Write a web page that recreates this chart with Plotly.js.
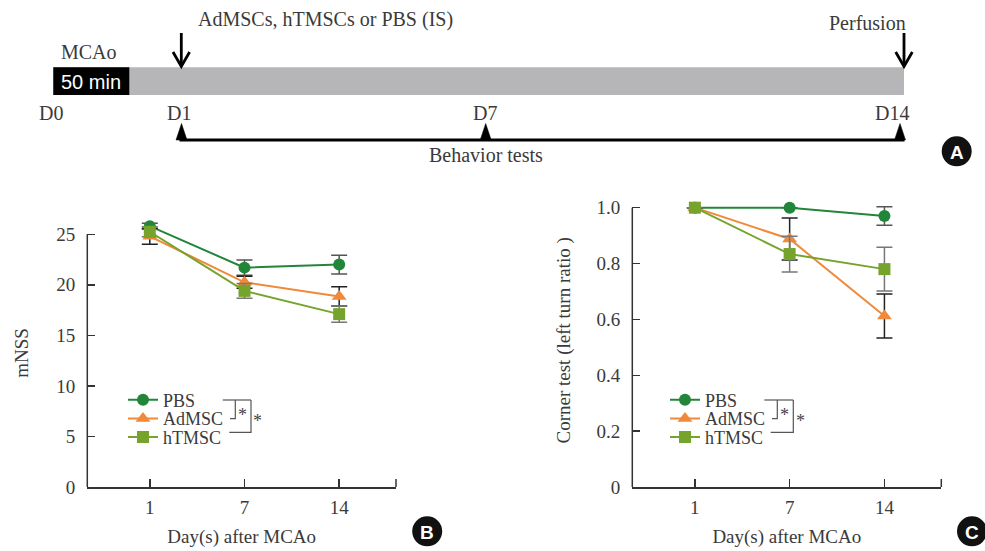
<!DOCTYPE html>
<html>
<head>
<meta charset="utf-8">
<script src="https://cdn.plot.ly/plotly-3.0.1.min.js"></script>
<style>html,body{margin:0;padding:0;background:#fff;}#chart{width:985px;height:551px;}</style>
</head>
<body>
<div id="chart"></div>
<script>
// ---- data ----
var days = ['1', '7', '14'];
var seriesNames = ['PBS', 'AdMSC', 'hTMSC'];
// Panel B: mNSS
var mnssPBS = [25.8, 21.7, 22.0];
var mnssPBSErr = [0.3, 0.75, 0.93];
var mnssAdMSC = [24.8, 20.25, 18.85];
var mnssAdMSCErr = [0.8, 0.6, 0.95];
var mnssHTMSC = [25.25, 19.4, 17.1];
var mnssHTMSCErr = [0.5, 0.72, 0.8];
// Panel C: corner test (left turn ratio)
var cornerPBS = [1.0, 1.0, 0.97];
var cornerPBSErr = [0, 0, 0.033];
var cornerAdMSC = [1.0, 0.888, 0.612];
var cornerAdMSCErr = [0, 0.075, 0.079];
var cornerHTMSC = [1.0, 0.834, 0.78];
var cornerHTMSCErr = [0, 0.064, 0.078];
// tick labels
var mnssTicks = [0, 5, 10, 15, 20, 25];
var cornerTickVals = [0, 0.2, 0.4, 0.6, 0.8, 1.0];
var cornerTickText = ['0', '0.2', '0.4', '0.6', '0.8', '1.0'];
// timeline labels
var timelineDays = ['D0', 'D1', 'D7', 'D14'];

// ---- styling ----
var W = 985, H = 551;
function P(x) { return x / W; }
function Q(y) { return 1 - y / H; }
var SERIF = '"Liberation Serif", "DejaVu Serif", serif';
var SANS = '"Liberation Sans", Arial, sans-serif';
var TXT = '#3a3a3a';
var AX = '#333333';
var colors = ['#22863a', '#f0893a', '#76a32c'];
var symbols = ['circle', 'triangle-up', 'square'];
var sizes = [12, 13, 12];
var errColors = ['#555555', '#222222', '#777777'];

var bVals = [mnssPBS, mnssAdMSC, mnssHTMSC];
var bErrs = [mnssPBSErr, mnssAdMSCErr, mnssHTMSCErr];
var cVals = [cornerPBS, cornerAdMSC, cornerHTMSC];
var cErrs = [cornerPBSErr, cornerAdMSCErr, cornerHTMSCErr];

var traces = [];
function addTraces(vals, errs, xa, ya, legBase) {
  for (var i = 0; i < 3; i++) {
    traces.push({
      type: 'scatter', mode: 'lines+markers',
      x: days, y: vals[i], name: seriesNames[i],
      xaxis: xa, yaxis: ya,
      legend: 'legend' + (legBase + i === 1 ? '' : (legBase + i)),
      line: { color: colors[i], width: 2 },
      marker: { color: colors[i], symbol: symbols[i], size: sizes[i] },
      error_y: { type: 'data', array: errs[i], visible: true, color: errColors[i], thickness: 1.5, width: 8 },
      cliponaxis: false
    });
  }
}
addTraces(bVals, bErrs, 'x', 'y', 1);
addTraces(cVals, cErrs, 'x2', 'y2', 4);

var tickFont = { family: SERIF, size: 19, color: TXT };
var titleFont = { family: SERIF, size: 19, color: TXT };

function xAxis(dom, anchor) {
  return {
    domain: dom, anchor: anchor, type: 'category', range: [-0.66, 2.6],
    showline: true, linecolor: AX, linewidth: 1.5, mirror: false,
    ticks: 'inside', ticklen: 8, tickwidth: 1.5, tickcolor: AX,
    showgrid: false, zeroline: false, tickfont: tickFont, ticklabelstandoff: 3,
    title: { text: 'Day(s) after MCAo', font: titleFont, standoff: 12 },
    fixedrange: true
  };
}
function yAxis(dom, anchor, range, tv, tt, title, standoff) {
  return {
    domain: dom, anchor: anchor, range: range,
    tickvals: tv, ticktext: tt,
    showline: false, ticks: 'inside', ticklen: 8, tickwidth: 1.5, tickcolor: AX,
    showgrid: false, zeroline: false, tickfont: tickFont, ticklabelstandoff: 11,
    title: { text: title, font: titleFont, standoff: standoff },
    fixedrange: true
  };
}

var yBot = Q(487);
var layout = {
  width: W, height: H,
  margin: { l: 0, r: 0, t: 0, b: 0, pad: 0 },
  paper_bgcolor: '#ffffff', plot_bgcolor: 'rgba(0,0,0,0)',
  showlegend: true,
  xaxis: xAxis([P(87.3), P(396)], 'y'),
  yaxis: yAxis([yBot, Q(219.1)], 'x', [0, 26.5], mnssTicks, mnssTicks.map(String), 'mNSS', 22),
  xaxis2: xAxis([P(632.3), P(941.3)], 'y2'),
  yaxis2: yAxis([yBot, Q(193.7)], 'x2', [0, 1.05], cornerTickVals, cornerTickText, 'Corner test (left turn ratio )', 20),
  shapes: [],
  annotations: []
};

// legends: one per item for exact row placement
var legRows = [400, 418.7, 437.3];
var legX = [123, 665];
for (var p = 0; p < 2; p++) {
  for (var r = 0; r < 3; r++) {
    var idx = p * 3 + r + 1;
    layout['legend' + (idx === 1 ? '' : idx)] = {
      x: P(legX[p]), xanchor: 'left', y: Q(legRows[r]), yanchor: 'middle',
      bgcolor: 'rgba(0,0,0,0)', borderwidth: 0,
      font: { family: SERIF, size: 18, color: TXT },
      itemwidth: 30
    };
  }
}

var S = layout.shapes, A = layout.annotations;
// y axis lines (only up to top tick)
S.push({ type: 'line', xref: 'x domain', yref: 'y', x0: 0, x1: 0, y0: 0, y1: 25, line: { color: AX, width: 1.5 } });
S.push({ type: 'line', xref: 'x2 domain', yref: 'y2', x0: 0, x1: 0, y0: 0, y1: 1.0, line: { color: AX, width: 1.5 } });
// end ticks on x axes
S.push({ type: 'line', xref: 'x domain', yref: 'y domain', x0: 1, x1: 1, y0: 0, y1: 8 / (487 - 219.1), line: { color: AX, width: 1.5 } });
S.push({ type: 'line', xref: 'x2 domain', yref: 'y2 domain', x0: 1, x1: 1, y0: 0, y1: 8 / (487 - 193.7), line: { color: AX, width: 1.5 } });

function pathPx(pts, close) {
  var s = '';
  for (var i = 0; i < pts.length; i++) s += (i ? ' L ' : 'M ') + P(pts[i][0]) + ',' + Q(pts[i][1]);
  return s + (close ? ' Z' : '');
}
// significance brackets
function bracket(x0, xInner, xOuter, xInEnd, xOutEnd) {
  S.push({ type: 'path', xref: 'paper', yref: 'paper', path: pathPx([[x0, 400], [xOuter, 400]]), line: { color: '#555', width: 1.2 } });
  S.push({ type: 'path', xref: 'paper', yref: 'paper', path: pathPx([[xInner, 400], [xInner, 418.7], [xInEnd, 418.7]]), line: { color: '#555', width: 1.2 } });
  S.push({ type: 'path', xref: 'paper', yref: 'paper', path: pathPx([[xOuter, 400], [xOuter, 432.3], [xOutEnd, 432.3]]), line: { color: '#555', width: 1.2 } });
}
bracket(222.7, 235.3, 251, 230, 229.3);
bracket(764.3, 777.3, 793.3, 772, 770.7);
[[242, 411.7], [257.7, 417.7], [784, 411.7], [800, 417.7]].forEach(function (s) {
  A.push({ xref: 'paper', yref: 'paper', x: P(s[0]), y: Q(s[1] + 3), xanchor: 'center', yanchor: 'middle', text: '*', showarrow: false, font: { family: SERIF, size: 18, color: '#444' } });
});

// ---- timeline (panel A) ----
S.push({ type: 'rect', xref: 'paper', yref: 'paper', x0: P(53.3), x1: P(904), y0: Q(95), y1: Q(67.3), fillcolor: '#b6b6b8', line: { width: 0 }, layer: 'below' });
S.push({ type: 'rect', xref: 'paper', yref: 'paper', x0: P(53.3), x1: P(129.3), y0: Q(95), y1: Q(67.3), fillcolor: '#000000', line: { width: 0 } });
// arrows
function arrow(x) {
  S.push({ type: 'line', xref: 'paper', yref: 'paper', x0: P(x), x1: P(x), y0: Q(33), y1: Q(66), line: { color: '#000', width: 2.8 } });
  S.push({ type: 'path', xref: 'paper', yref: 'paper', path: pathPx([[x - 8.3, 52], [x, 66.5], [x + 8.3, 52]]), line: { color: '#000', width: 2.8 } });
}
arrow(181.3);
arrow(904);
// behavior test line
S.push({ type: 'line', xref: 'paper', yref: 'paper', x0: P(179.5), x1: P(904.5), y0: Q(140), y1: Q(140), line: { color: '#000', width: 3.2 } });
[181.5, 485.7, 900].forEach(function (x) {
  S.push({ type: 'path', xref: 'paper', yref: 'paper', path: pathPx([[x - 5.5, 140], [x, 123.5], [x + 5.5, 140]], true), fillcolor: '#000', line: { color: '#000', width: 0.5 } });
});

function txt(t, x, y, size, color, fam) {
  A.push({ xref: 'paper', yref: 'paper', x: P(x), y: Q(y), text: t, showarrow: false, xanchor: 'center', yanchor: 'middle', font: { family: fam || SERIF, size: size, color: color || TXT } });
}
txt('MCAo', 89, 51.7, 20);
txt('50 min', 91, 82, 20, '#ffffff', SANS);
txt('AdMSCs, hTMSCs or PBS (IS)', 325, 20, 20);
txt('Perfusion', 867.7, 23.3, 20);
var tlX = [51.3, 179, 485, 891.7];
for (var i = 0; i < timelineDays.length; i++) txt(timelineDays[i], tlX[i], 113.3, 20);
txt('Behavior tests', 485.5, 155.5, 20);

// panel letters
[['A', 956.7, 151.3], ['B', 427.2, 531.3], ['C', 972, 531.3]].forEach(function (l) {
  S.push({ type: 'circle', xref: 'paper', yref: 'paper', x0: P(l[1] - 15), x1: P(l[1] + 15), y0: Q(l[2] + 15), y1: Q(l[2] - 15), fillcolor: '#111', line: { width: 0 } });
  A.push({ xref: 'paper', yref: 'paper', x: P(l[1]), y: Q(l[2] + 1), xanchor: 'center', yanchor: 'middle', text: '<b>' + l[0] + '</b>', showarrow: false, font: { family: SANS, size: 19, color: '#ffffff' } });
});

Plotly.newPlot('chart', traces, layout, { staticPlot: true, displayModeBar: false });
</script>
</body>
</html>
